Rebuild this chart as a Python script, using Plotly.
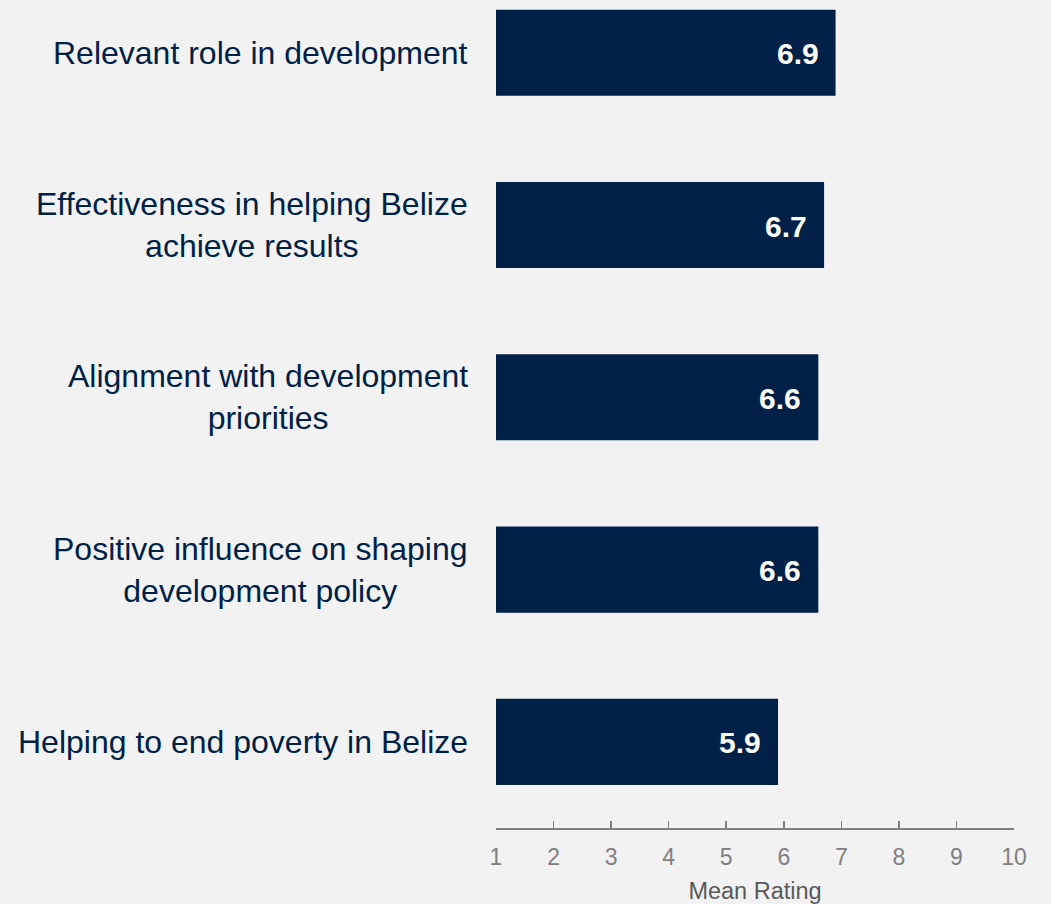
import plotly.graph_objects as go

categories = [
    "Relevant role in development",
    "Effectiveness in helping Belize<br>achieve results",
    "Alignment with development<br>priorities",
    "Positive influence on shaping<br>development policy",
    "Helping to end poverty in Belize",
]
values = [6.9, 6.7, 6.6, 6.6, 5.9]
value_labels = ["6.9", "6.7", "6.6", "6.6", "5.9"]
x_ticks = [1, 2, 3, 4, 5, 6, 7, 8, 9, 10]

NAVY = "#002147"
BG = "#F2F2F2"
FONT = "Liberation Sans, Arial, sans-serif"

fig = go.Figure()
fig.add_trace(go.Bar(
    y=categories,
    x=[v - 1 for v in values],
    base=1,
    orientation="h",
    width=0.5,
    marker=dict(color=NAVY, line=dict(width=0)),
    hoverinfo="skip",
))

annotations = []
for cat, v, lab in zip(categories, values, value_labels):
    annotations.append(dict(
        x=v, y=cat, xref="x", yref="y", text=lab, showarrow=False,
        xanchor="right", yanchor="middle", xshift=-15, yshift=-1,
        font=dict(family=FONT, size=30, color="white", weight="bold"),
    ))
    annotations.append(dict(
        x=0, y=cat, xref="paper", yref="y", text=cat, showarrow=False,
        xanchor="right", yanchor="middle", align="center", xshift=-26,
        font=dict(family=FONT, size=32, color=NAVY),
    ))

fig.update_layout(
    width=1051, height=904,
    paper_bgcolor=BG, plot_bgcolor=BG,
    margin=dict(l=496, r=37, t=0, b=76),
    showlegend=False,
    annotations=annotations,
    xaxis=dict(
        range=[1, 10], tickvals=x_ticks, ticktext=[str(t) for t in x_ticks],
        showgrid=False, zeroline=False,
        showline=True, linecolor="#808080", linewidth=1.5,
        ticks="inside", ticklen=7, tickwidth=1.5, tickcolor="#808080",
        tickfont=dict(family=FONT, size=23, color="#808080"),
        ticklabelstandoff=8,
        title=dict(text="Mean Rating", font=dict(family=FONT, size=23.5, color="#595959"), standoff=13),
        automargin=False, fixedrange=True,
    ),
    yaxis=dict(
        type="category", range=[4.50, -0.306],
        showticklabels=False, showgrid=False, zeroline=False, showline=False,
        ticks="", automargin=False, fixedrange=True,
    ),
)

fig.write_html(
    "out.html",
    config={"displayModeBar": False, "staticPlot": True},
    post_script="document.body.style.margin='0';document.body.style.background='#F2F2F2';",
)
